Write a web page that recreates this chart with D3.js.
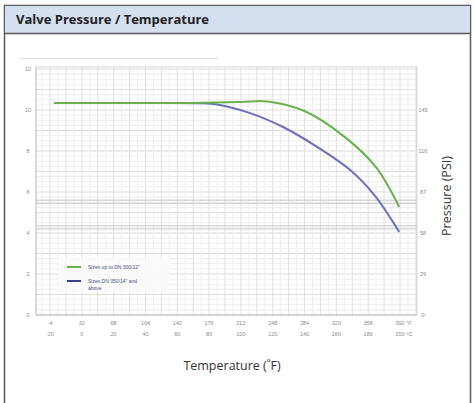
<!DOCTYPE html>
<html>
<head>
<meta charset="utf-8">
<script src="https://cdn.jsdelivr.net/npm/d3@7"></script>
<style>
  body { margin: 0; background: #fff; }
  svg { display: block; }
</style>
</head>
<body>
<svg width="474" height="403"></svg>
<script>
// temperature in °C, pressure in bar
const tempC = [-20, 0, 20, 40, 60, 80, 100, 120, 140, 160, 180, 200];
const tempF = [-4, 32, 68, 104, 140, 176, 212, 248, 284, 320, 356, 392];
const barTicks = [0, 2, 4, 6, 8, 10, 12];
const psiTicks = [0, 29, 58, 87, 116, 145];

const smallSizes = [
  [-17.5, 10.34], [42.9, 10.34], [74.3, 10.35], [100, 10.39], [116.5, 10.42],
  [140, 9.95], [165, 8.7], [185, 7.2], [199.5, 5.27]
];
const largeSizes = [
  [-17.5, 10.34], [42.9, 10.34], [74.3, 10.33], [85, 10.27], [105.8, 9.85],
  [126.5, 9.17], [147.9, 8.2], [168.7, 7.07], [184.4, 5.8], [199.5, 4.05]
];
const legendLabels = ["Sizes up to DN 300/12\"", "Sizes DN 350/14\" and", "above"];

const svg = d3.select("svg");

// frame and title bar
svg.append("rect")
    .attr("x", 4.5).attr("y", 5.5).attr("width", 466).attr("height", 420)
    .attr("fill", "#fff").attr("stroke", "#5a5a5a").attr("stroke-width", 1.5);
svg.append("rect")
    .attr("x", 5).attr("y", 6).attr("width", 465).attr("height", 27)
    .attr("fill", "#d4dff0");
svg.append("line")
    .attr("x1", 4).attr("x2", 471).attr("y1", 33.5).attr("y2", 33.5)
    .attr("stroke", "#5a5a5a").attr("stroke-width", 1.5);
svg.append("text")
    .attr("x", 16).attr("y", 24)
    .attr("font-family", "Open Sans").attr("font-weight", 700).attr("font-size", 13)
    .attr("fill", "#222")
    .text("Valve Pressure / Temperature");

// faint line above plot
svg.append("line")
    .attr("x1", 20).attr("x2", 218).attr("y1", 58.5).attr("y2", 58.5)
    .attr("stroke", "#e2e2e2");

const x = d3.scaleLinear().domain([-20, 200]).range([50, 400]);
const y = d3.scaleLinear().domain([0, 12]).range([315, 69]);

const xMin = -28.8, xMax = 210.6, yMax = 12.1;
const g = svg.append("g");

// grid
d3.range(0, yMax, 0.25).forEach(v => {
  g.append("line")
      .attr("x1", x(xMin)).attr("x2", x(xMax))
      .attr("y1", y(v)).attr("y2", y(v))
      .attr("stroke", v % 1 === 0 ? "#dcdcdc" : "#ededed").attr("stroke-width", 1);
});
d3.range(-25, xMax, 5).forEach(v => {
  g.append("line")
      .attr("x1", x(v)).attr("x2", x(v))
      .attr("y1", y(0)).attr("y2", y(yMax))
      .attr("stroke", v % 10 === 0 ? "#e0e0e0" : "#efefef").attr("stroke-width", 1);
});
// darker double lines in the lower part
[5.45, 5.6, 4.2, 4.35].forEach(v => {
  g.append("line")
      .attr("x1", x(xMin)).attr("x2", x(xMax))
      .attr("y1", y(v)).attr("y2", y(v))
      .attr("stroke", "#c8c8c8");
});

// plot borders
g.append("line").attr("x1", x(xMin)).attr("x2", x(xMin)).attr("y1", y(0)).attr("y2", y(yMax))
    .attr("stroke", "#b5b5b5");
g.append("line").attr("x1", x(xMax)).attr("x2", x(xMax)).attr("y1", y(0)).attr("y2", y(yMax))
    .attr("stroke", "#cfcfcf");
g.append("line").attr("x1", x(xMin)).attr("x2", x(xMax)).attr("y1", y(0)).attr("y2", y(0))
    .attr("stroke", "#b5b5b5");
g.append("line").attr("x1", x(xMin)).attr("x2", x(xMax)).attr("y1", y(yMax)).attr("y2", y(yMax))
    .attr("stroke", "#d5d5d5");

// left bar ticks
g.selectAll(".bar-label")
  .data(barTicks)
  .enter()
  .append("text")
  .attr("x", 28).attr("y", d => y(d) + 2)
  .attr("text-anchor", "middle")
  .attr("font-family", "Liberation Sans Narrow, Liberation Sans").attr("font-size", 5.5)
  .attr("fill", "#8a8a8a")
  .text(d => d);

// right psi ticks
g.selectAll(".psi-label")
  .data(psiTicks)
  .enter()
  .append("text")
  .attr("x", 423).attr("y", d => y(d / 14.5) + 2)
  .attr("text-anchor", "middle")
  .attr("font-family", "Liberation Sans Narrow, Liberation Sans").attr("font-size", 5.5)
  .attr("fill", "#8a8a8a")
  .text(d => d);

// x labels (two rows)
g.selectAll(".f-label")
  .data(tempF)
  .enter()
  .append("text")
  .attr("x", (d, i) => x(tempC[i])).attr("y", 325)
  .attr("text-anchor", "middle")
  .attr("font-family", "Liberation Sans Narrow, Liberation Sans").attr("font-size", 5.5)
  .attr("fill", "#8a8a8a")
  .text(d => d);
g.selectAll(".c-label")
  .data(tempC)
  .enter()
  .append("text")
  .attr("x", d => x(d)).attr("y", 336)
  .attr("text-anchor", "middle")
  .attr("font-family", "Liberation Sans Narrow, Liberation Sans").attr("font-size", 5.5)
  .attr("fill", "#8a8a8a")
  .text(d => d);
g.append("text").attr("x", x(200) + 6).attr("y", 325)
  .attr("font-family", "Liberation Sans").attr("font-size", 5.5).attr("fill", "#8a8a8a").text("°F");
g.append("text").attr("x", x(200) + 6).attr("y", 336)
  .attr("font-family", "Liberation Sans").attr("font-size", 5.5).attr("fill", "#8a8a8a").text("°C");

// curves
const line = d3.line()
    .x(d => x(d[0]))
    .y(d => y(d[1]))
    .curve(d3.curveCatmullRom.alpha(0.5));

g.append("path").datum(largeSizes)
    .attr("d", line).attr("fill", "none")
    .attr("stroke", "#6f6fb6").attr("stroke-width", 2);
g.append("path").datum(smallSizes)
    .attr("d", line).attr("fill", "none")
    .attr("stroke", "#6ab04c").attr("stroke-width", 2);

// legend
g.append("rect").attr("x", 58).attr("y", 258).attr("width", 112).attr("height", 34)
    .attr("fill", "#fafafa").attr("opacity", 0.9);
g.append("line").attr("x1", 67).attr("x2", 81).attr("y1", 267).attr("y2", 267)
    .attr("stroke", "#6ab04c").attr("stroke-width", 2);
g.append("line").attr("x1", 67).attr("x2", 81).attr("y1", 281).attr("y2", 281)
    .attr("stroke", "#3b3f8f").attr("stroke-width", 2);
g.selectAll(".legend-text")
  .data(legendLabels)
  .enter()
  .append("text")
  .attr("x", 88).attr("y", (d, i) => [269, 283, 290][i])
  .attr("font-family", "Liberation Sans Narrow, Liberation Sans").attr("font-size", 5)
  .attr("fill", "#4a5080")
  .text(d => d);

// axis titles
svg.append("text")
    .attr("transform", "translate(451,196) rotate(-90)")
    .attr("text-anchor", "middle")
    .attr("font-family", "Open Sans").attr("font-size", 12.5)
    .attr("fill", "#333")
    .text("Pressure (PSI)");
svg.append("text")
    .attr("x", 232).attr("y", 370)
    .attr("text-anchor", "middle")
    .attr("font-family", "Open Sans").attr("font-size", 12.5)
    .attr("fill", "#333")
    .text("Temperature (˚F)");
</script>
</body>
</html>
